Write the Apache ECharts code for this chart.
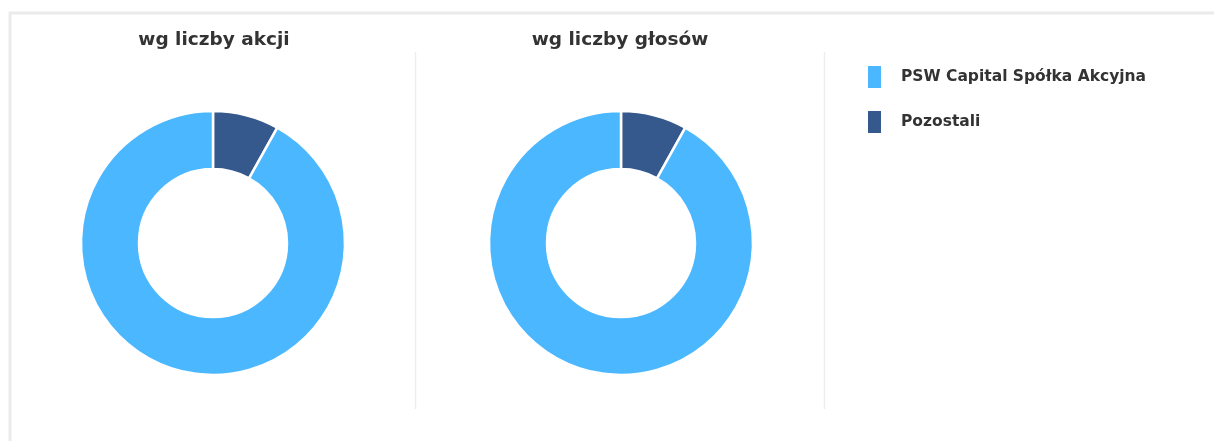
<!DOCTYPE html>
<html>
<head>
<meta charset="utf-8">
<script src="https://cdn.jsdelivr.net/npm/echarts@6/dist/echarts.min.js"></script>
<style>
html,body{margin:0;padding:0;background:#fff;}
#c{width:1214px;height:441px;}
</style>
</head>
<body>
<div id="c"></div>
<script>
const chartTitles = ['wg liczby akcji', 'wg liczby głosów'];
const categories = ['Pozostali', 'PSW Capital Spółka Akcyjna'];
const legendOrder = ['PSW Capital Spółka Akcyjna', 'Pozostali'];
const sharesValues = [8.1, 91.9];
const votesValues = [8.1, 91.9];
const colors = {'PSW Capital Spółka Akcyjna': '#4bb7ff', 'Pozostali': '#35598d'};

const font = '"DejaVu Sans", Verdana, sans-serif';
const centersX = [213, 621];
const titleCentersX = [214, 620];

function makeData(vals) {
  return categories.map((c, i) => ({name: c, value: vals[i], itemStyle: {color: colors[c]}}));
}

const chart = echarts.init(document.getElementById('c'), null, {renderer: 'canvas'});
chart.setOption({
  animation: false,
  backgroundColor: '#fff',
  title: chartTitles.map((t, i) => ({
    text: t,
    left: titleCentersX[i],
    top: 31,
    padding: 0,
    textAlign: 'center',
    textStyle: {fontFamily: font, fontSize: 18.5, fontWeight: 'bold', color: '#333'}
  })),
  legend: {
    orient: 'vertical',
    left: 866,
    top: 64,
    padding: 0,
    itemWidth: 15,
    itemHeight: 24,
    itemGap: 19,
    icon: 'rect',
    data: legendOrder,
    selectedMode: false,
    textStyle: {fontFamily: font, fontSize: 15.5, fontWeight: 'bold', color: '#333', padding: [0, 0, 0, 14]}
  },
  graphic: [
    {type: 'rect', shape: {x: 10, y: 13, width: 1240, height: 460}, style: {fill: 'none', stroke: '#ebebeb', lineWidth: 3}, silent: true},
    {type: 'line', shape: {x1: 415.5, y1: 52, x2: 415.5, y2: 409}, style: {stroke: '#eeeeee', lineWidth: 1.5}, silent: true},
    {type: 'line', shape: {x1: 824.5, y1: 52, x2: 824.5, y2: 409}, style: {stroke: '#eeeeee', lineWidth: 1.5}, silent: true}
  ],
  series: [sharesValues, votesValues].map((vals, i) => ({
    type: 'pie',
    center: [centersX[i], 243],
    radius: [74, 132],
    startAngle: 90,
    clockwise: true,
    label: {show: false},
    labelLine: {show: false},
    emphasis: {scale: false},
    itemStyle: {borderColor: '#fff', borderWidth: 2.5},
    data: makeData(vals)
  }))
});
</script>
</body>
</html>
